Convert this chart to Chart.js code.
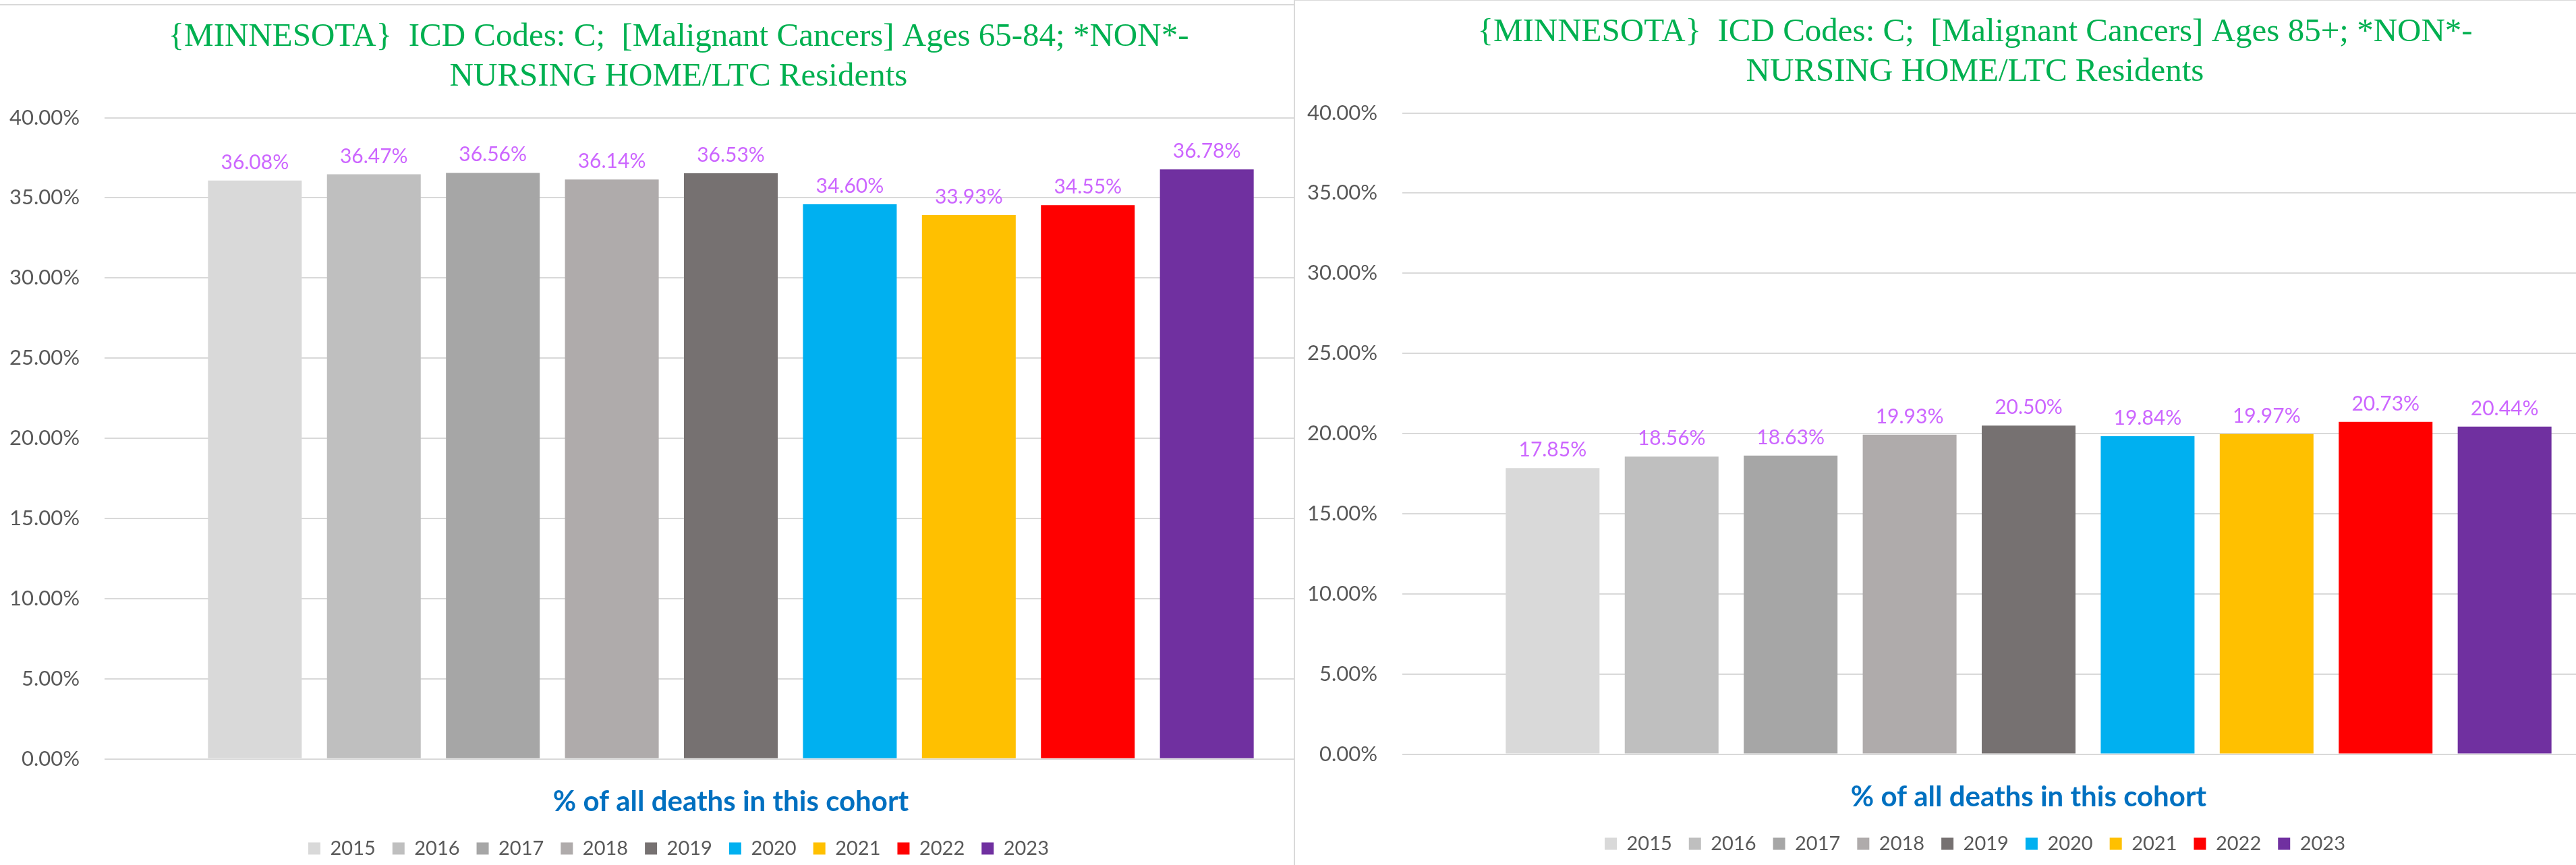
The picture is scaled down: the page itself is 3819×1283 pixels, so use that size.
<!DOCTYPE html>
<html>
<head>
<meta charset="utf-8">
<script src="https://cdn.jsdelivr.net/npm/chart.js@4/dist/chart.umd.min.js"></script>
<style>
  html, body { margin: 0; padding: 0; background: #fff; overflow: hidden; }
  body { width: 3819px; height: 1283px; position: relative; }
  .panel { position: absolute; overflow: hidden; background: #fff; }
  canvas { display: block; }
</style>
</head>
<body>
<div class="panel" style="left:0; top:6px; width:1918px; height:1300px; border-top:2px solid #D9D9D9;">
  <canvas id="chart-65" width="2036" height="1320"></canvas>
</div>
<div class="panel" style="left:1918px; top:-1px; width:1899px; height:1300px; border-top:2px solid #D9D9D9; border-left:2px solid #D9D9D9;">
  <canvas id="chart-85" width="2040" height="1320"></canvas>
</div>
<script>
// one series per year, a single (blank) category
var years = ["2015", "2016", "2017", "2018", "2019", "2020", "2021", "2022", "2023"];
var ages65to84 = [36.08, 36.47, 36.56, 36.14, 36.53, 34.60, 33.93, 34.55, 36.78];
var ages85plus = [17.85, 18.56, 18.63, 19.93, 20.50, 19.84, 19.97, 20.73, 20.44];
var yTicks = [0, 5, 10, 15, 20, 25, 30, 35, 40];

var yearColors = ["#D9D9D9", "#BFBFBF", "#A6A6A6", "#AFABAB", "#767171", "#00B0F0", "#FFC000", "#FF0000", "#7030A0"];

// value labels above each bar
var barLabels = {
    id: 'barLabels',
    afterDatasetsDraw: function (chart) {
        var ctx = chart.ctx;
        ctx.save();
        ctx.font = '30px Lato';
        ctx.fillStyle = '#CC66FF';
        ctx.textAlign = 'center';
        ctx.textBaseline = 'alphabetic';
        chart.data.datasets.forEach(function (ds, i) {
            chart.getDatasetMeta(i).data.forEach(function (bar, j) {
                ctx.fillText(ds.data[j].toFixed(2) + '%', bar.x, bar.y - 17);
            });
        });
        ctx.restore();
    }
};

function makeChart(id, titleLines, values, yWidth) {
    return new Chart(document.getElementById(id), {
        type: 'bar',
        data: {
            labels: [''],
            datasets: years.map(function (y, i) {
                return {
                    label: y,
                    data: [values[i]],
                    backgroundColor: yearColors[i],
                    borderWidth: 0
                };
            })
        },
        options: {
            responsive: false,
            animation: false,
            devicePixelRatio: 1,
            categoryPercentage: 0.855,
            barPercentage: 0.788,
            layout: { padding: { top: 18, right: 24, bottom: 45, left: 0 } },
            plugins: {
                title: {
                    display: true,
                    text: titleLines,
                    color: '#00B050',
                    font: { family: 'Liberation Serif', size: 49, weight: 'normal', lineHeight: 1.2 },
                    padding: { top: 0, bottom: 31 }
                },
                legend: {
                    position: 'bottom',
                    labels: {
                        boxWidth: 18,
                        boxHeight: 18,
                        padding: 25,
                        color: '#595959',
                        font: { family: 'Lato', size: 29 }
                    }
                },
                tooltip: { enabled: false }
            },
            scales: {
                x: {
                    grid: { display: false, drawTicks: false },
                    border: { display: false },
                    ticks: { display: false },
                    title: {
                        display: true,
                        text: '% of all deaths in this cohort',
                        color: '#0070C0',
                        font: { family: 'Lato', size: 42, weight: 'bold', lineHeight: 1.2 },
                        padding: { top: 39, bottom: 4 }
                    }
                },
                y: {
                    min: yTicks[0],
                    max: yTicks[yTicks.length - 1],
                    afterBuildTicks: function (scale) {
                        scale.ticks = yTicks.map(function (v) { return { value: v }; });
                    },
                    ticks: {
                        padding: 37,
                        color: '#595959',
                        font: { family: 'Lato', size: 31 },
                        callback: function (v) { return v.toFixed(2) + '%'; }
                    },
                    grid: { color: '#D9D9D9', lineWidth: 2, drawTicks: false },
                    border: { display: false },
                    afterFit: function (scale) { scale.width = yWidth; }
                }
            }
        },
        plugins: [barLabels]
    });
}

makeChart("chart-65",
    ["{MINNESOTA}  ICD Codes: C;  [Malignant Cancers] Ages 65-84; *NON*-", "NURSING HOME/LTC Residents"],
    ages65to84, 155);

makeChart("chart-85",
    ["{MINNESOTA}  ICD Codes: C;  [Malignant Cancers] Ages 85+; *NON*-", "NURSING HOME/LTC Residents"],
    ages85plus, 159);
</script>
</body>
</html>
